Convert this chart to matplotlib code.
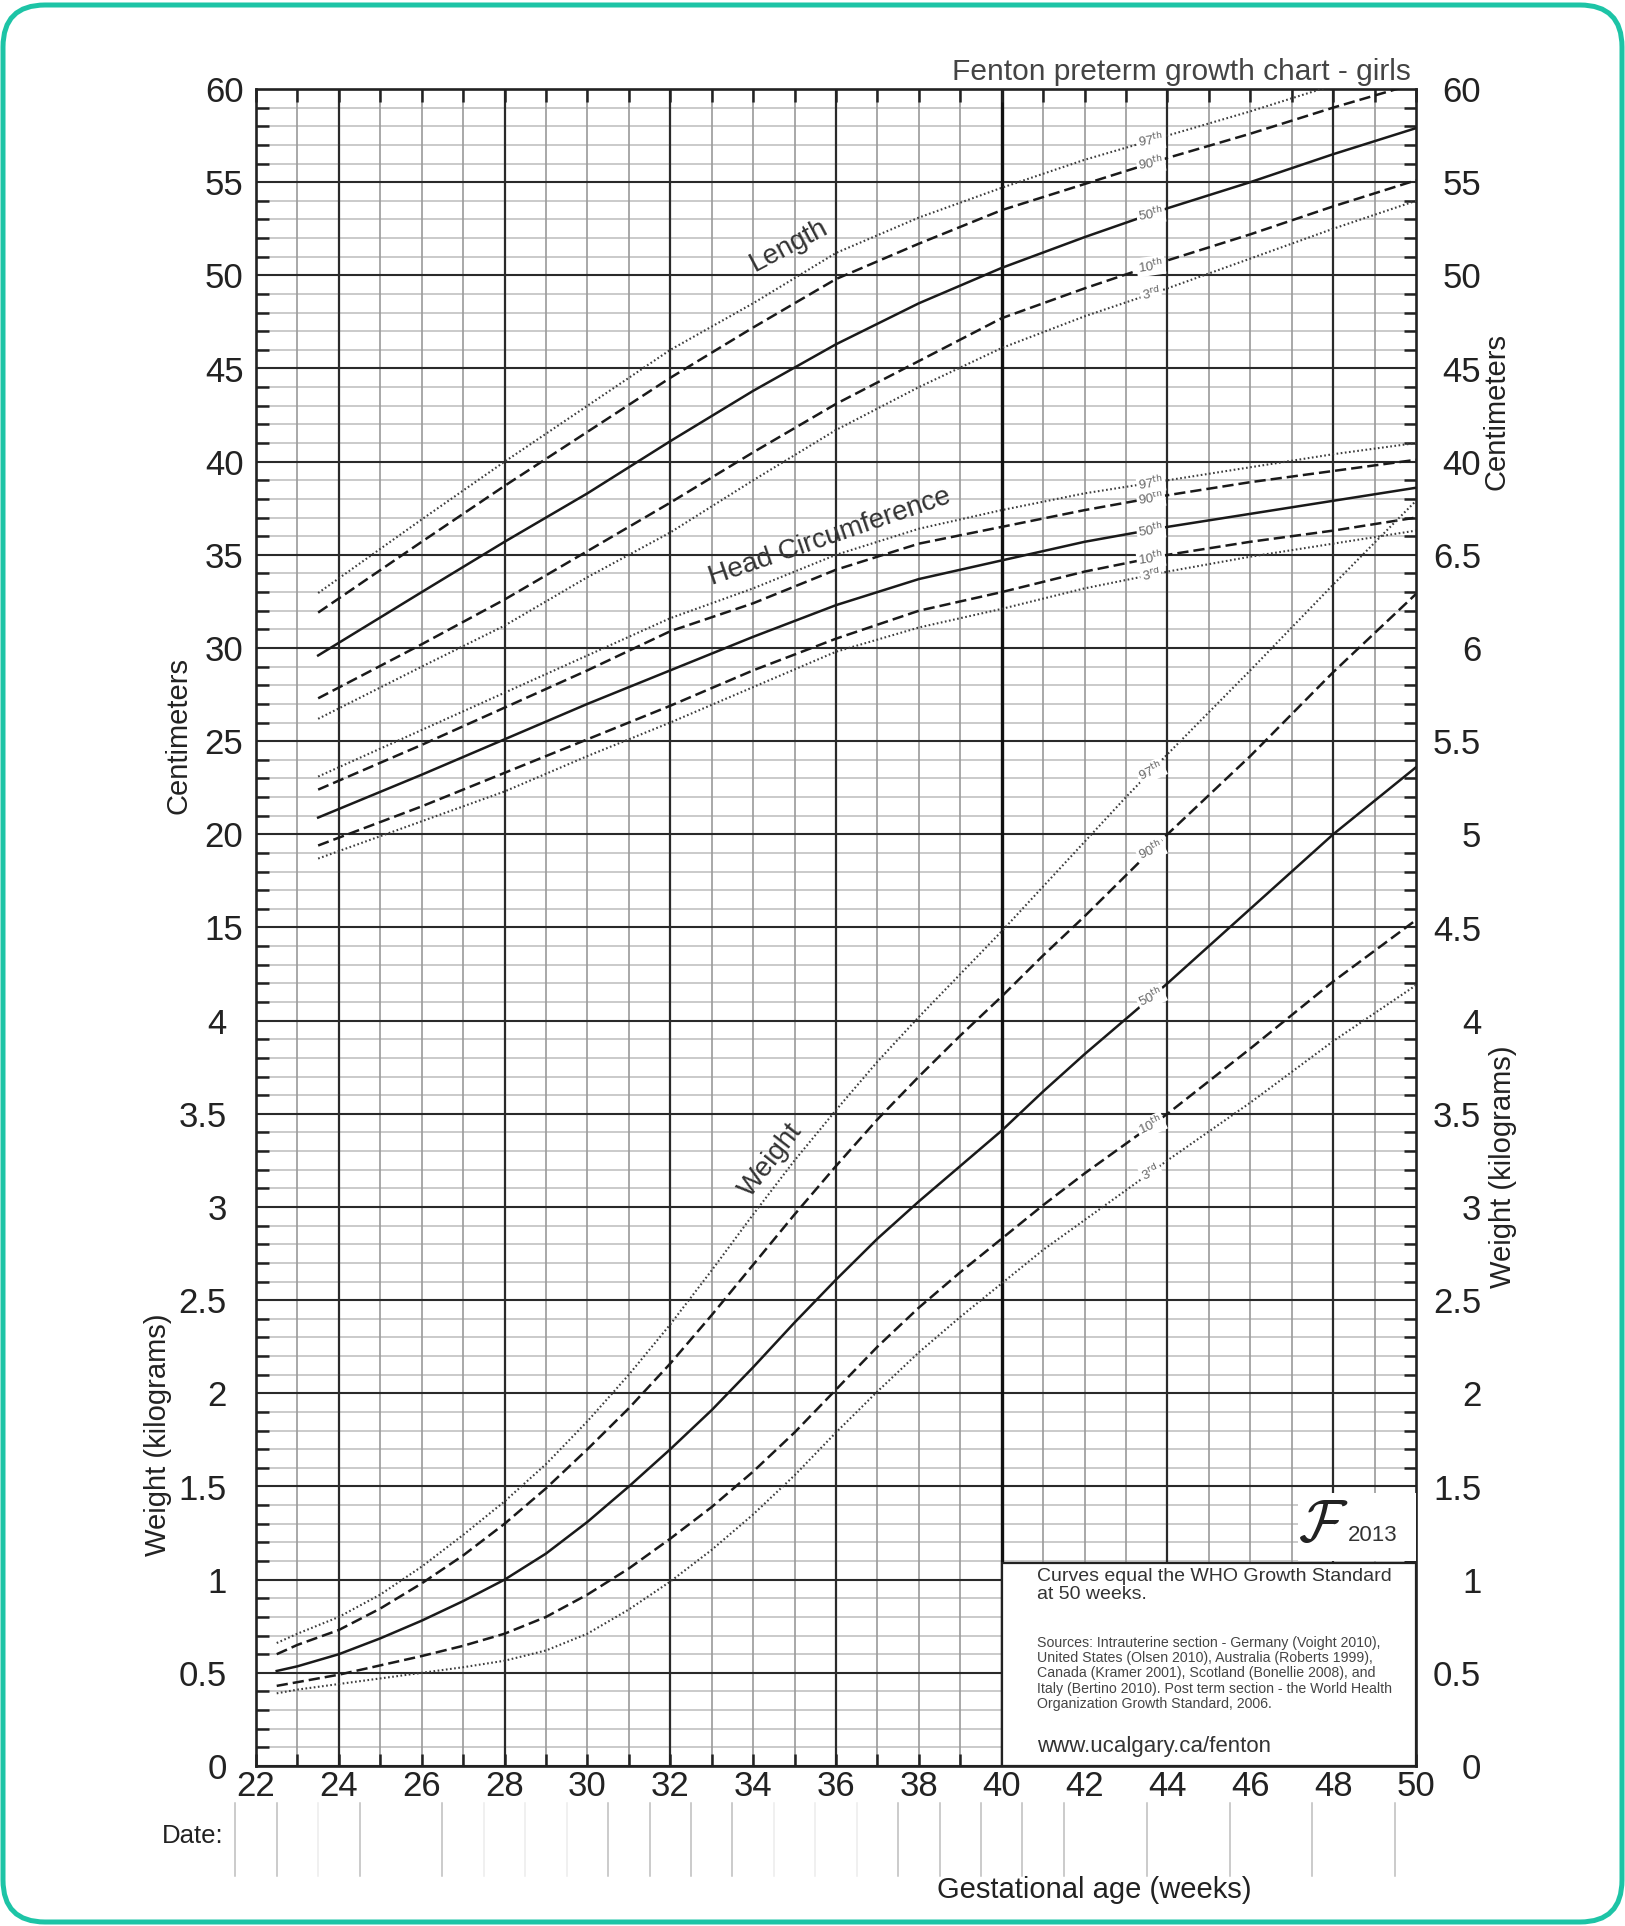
import matplotlib
matplotlib.use('Agg')
import matplotlib.pyplot as plt
import numpy as np
from matplotlib.patches import Rectangle, FancyBboxPatch
from matplotlib.transforms import IdentityTransform

plt.rcParams['font.family'] = ['Liberation Sans', 'DejaVu Sans']

# ---- data ----
# length / head circumference (cm), by gestational week
lhc_weeks = [23.5, 26, 28, 30, 32, 34, 36, 38, 40, 42, 44, 46, 48, 50]
len_p3  = [26.2, 29.0, 31.2, 33.8, 36.2, 39.0, 41.7, 44.0, 46.1, 47.8, 49.3, 50.9, 52.5, 54.0]
len_p10 = [27.3, 30.2, 32.6, 35.2, 37.8, 40.5, 43.1, 45.4, 47.7, 49.3, 50.8, 52.2, 53.7, 55.1]
len_p50 = [29.6, 33.0, 35.7, 38.3, 41.1, 43.8, 46.3, 48.5, 50.4, 52.05, 53.6, 55.0, 56.5, 57.9]
len_p90 = [31.9, 35.7, 38.7, 41.6, 44.5, 47.2, 49.8, 51.7, 53.5, 54.9, 56.3, 57.6, 59.0, 60.3]
len_p97 = [32.95, 36.9, 40.0, 43.0, 46.0, 48.5, 51.2, 53.1, 54.7, 56.2, 57.5, 58.8, 60.2, 61.5]

hc_p3  = [18.7, 20.7, 22.3, 24.2, 26.0, 27.9, 29.8, 31.1, 32.1, 33.2, 34.1, 34.9, 35.6, 36.3]
hc_p10 = [19.4, 21.5, 23.3, 25.1, 26.9, 28.8, 30.5, 32.0, 33.0, 34.1, 35.0, 35.7, 36.3, 37.0]
hc_p50 = [20.9, 23.2, 25.1, 27.0, 28.8, 30.6, 32.3, 33.7, 34.7, 35.7, 36.5, 37.2, 37.9, 38.6]
hc_p90 = [22.4, 24.8, 26.8, 28.8, 30.9, 32.4, 34.2, 35.6, 36.5, 37.4, 38.2, 38.9, 39.5, 40.1]
hc_p97 = [23.1, 25.6, 27.6, 29.6, 31.6, 33.2, 35.0, 36.4, 37.4, 38.3, 39.0, 39.7, 40.4, 41.0]

# weight (kg)
wt_weeks = [22.5, 23, 24, 25, 26, 27, 28, 29, 30, 31, 32, 33, 34, 35, 36, 37, 38, 39,
            40, 41, 42, 43, 44, 46, 48, 50]
wt_p3  = [0.39, 0.41, 0.44, 0.47, 0.50, 0.53, 0.565, 0.62, 0.71, 0.84, 0.99, 1.16, 1.35, 1.56,
          1.79, 2.01, 2.22, 2.41, 2.59, 2.77, 2.93, 3.09, 3.25, 3.56, 3.89, 4.19]
wt_p10 = [0.43, 0.45, 0.49, 0.54, 0.59, 0.645, 0.71, 0.80, 0.92, 1.06, 1.22, 1.39, 1.58, 1.79,
          2.02, 2.25, 2.46, 2.65, 2.83, 3.01, 3.18, 3.34, 3.50, 3.85, 4.21, 4.54]
wt_p50 = [0.51, 0.535, 0.60, 0.685, 0.78, 0.885, 1.00, 1.14, 1.31, 1.50, 1.70, 1.91, 2.14, 2.38,
          2.61, 2.83, 3.03, 3.22, 3.41, 3.62, 3.82, 4.01, 4.20, 4.60, 5.00, 5.36]
wt_p90 = [0.60, 0.65, 0.73, 0.845, 0.98, 1.13, 1.30, 1.49, 1.70, 1.92, 2.16, 2.42, 2.69, 2.96,
          3.22, 3.47, 3.70, 3.92, 4.13, 4.35, 4.56, 4.78, 5.00, 5.42, 5.87, 6.29]
wt_p97 = [0.66, 0.71, 0.80, 0.92, 1.07, 1.24, 1.42, 1.62, 1.85, 2.10, 2.37, 2.66, 2.96, 3.25,
          3.52, 3.78, 4.02, 4.25, 4.48, 4.72, 4.96, 5.20, 5.43, 5.88, 6.34, 6.79]

percentiles = [3, 10, 50, 90, 97]
pct_labels = [r'3$^{\rm rd}$', r'10$^{\rm th}$', r'50$^{\rm th}$', r'90$^{\rm th}$', r'97$^{\rm th}$']

x_tick_weeks = list(range(22, 51, 2))
left_cm_ticks = list(range(15, 61, 5))
left_kg_ticks = [0, 0.5, 1, 1.5, 2, 2.5, 3, 3.5, 4]
right_ticks = list(np.arange(0, 9.01, 0.5))
right_labels = ['0', '0.5', '1', '1.5', '2', '2.5', '3', '3.5', '4', '4.5', '5', '5.5',
                '6', '6.5', '40', '45', '50', '55', '60']
date_weeks = [21.5, 22.5, 24.5, 26.5, 30.5, 31.5, 32.5, 33.5, 37.5, 38.5, 39.5, 40.5,
              41.5, 43.5, 45.5, 47.5, 49.5]
date_weeks_faint = [23.5, 27.5, 28.5, 29.5, 34.5, 35.5, 36.5]

sources = ("Sources: Intrauterine section - Germany (Voight 2010),\n"
           "United States (Olsen 2010), Australia (Roberts 1999),\n"
           "Canada (Kramer 2001), Scotland (Bonellie 2008), and\n"
           "Italy (Bertino 2010). Post term section - the World Health\n"
           "Organization Growth Standard, 2006.")

# ---- figure ----
W, H = 1625, 1926
fig = plt.figure(figsize=(W / 100, H / 100), dpi=100)


def fx(px):
    return px / W


def fy(py):
    return 1 - py / H


ax = fig.add_axes([fx(256), fy(1766), fx(1416) - fx(256), fy(89) - fy(1766)])
ax.set_xlim(22, 50)
ax.set_ylim(-30, 60)

# grid
for c in range(-30, 61):
    if c % 5 == 0:
        ax.axhline(c, color='#2a2a2a', lw=1.5, zorder=1.2)
    else:
        ax.axhline(c, color='#c6c6c6', lw=1.3, zorder=1.0)
for wk in range(23, 50):
    if wk == 40:
        ax.axvline(wk, color='#111111', lw=2.4, zorder=1.3)
    elif wk % 4 == 0:
        ax.axvline(wk, color='#2a2a2a', lw=1.6, zorder=1.25)
    else:
        ax.axvline(wk, color='#9a9a9a', lw=1.2, zorder=1.05)

for s in ax.spines.values():
    s.set_linewidth(1.9)
    s.set_color('#222222')

styles = {
    3: dict(color='#3c3c3c', lw=1.5, dashes=(0.8, 1.2)),
    10: dict(color='#1a1a1a', lw=1.8, dashes=(4.5, 2.0)),
    50: dict(color='#1a1a1a', lw=1.8, ls='-'),
    90: dict(color='#1a1a1a', lw=1.8, dashes=(4.5, 2.0)),
    97: dict(color='#3c3c3c', lw=1.5, dashes=(0.8, 1.2)),
}

label_x = 43.6
lbl_box = dict(boxstyle='square,pad=0.12', fc='white', ec='none')

for series in ([len_p3, len_p10, len_p50, len_p90, len_p97],
               [hc_p3, hc_p10, hc_p50, hc_p90, hc_p97]):
    for p, vals, lab in zip(percentiles, series, pct_labels):
        ax.plot(lhc_weeks, vals, zorder=3, **styles[p])
        ax.text(label_x, np.interp(label_x, lhc_weeks, vals), lab, fontsize=9.5,
                color='#666666', ha='center', va='center', rotation=8,
                bbox=lbl_box, zorder=4)

ax.text(34.87, 51.6, 'Length', fontsize=20, rotation=28, ha='center', va='center',
        color='#333333', zorder=4)
ax.text(35.85, 35.95, 'Head Circumference', fontsize=20, rotation=19, ha='center',
        va='center', color='#333333', zorder=4)

# ticks on main axis
ax.set_xticks(x_tick_weeks)
ax.set_xticklabels([str(v) for v in x_tick_weeks])
ax.set_xticks(range(22, 51), minor=True)
ax.tick_params(axis='x', which='both', direction='in', length=9, width=1.8,
               top=True, bottom=True, color='#222222')
ax.tick_params(axis='x', which='major', pad=3, labelsize=25, labelcolor='#222222')

ax.set_yticks(list(range(-30, 61, 5)))
ax.set_yticklabels([str(v) if v >= 15 else '' for v in range(-30, 61, 5)])
ax.set_yticks(range(-30, 61), minor=True)

# weight axis (right)
axw = ax.twinx()
axw.set_ylim(0, 9)
for s in axw.spines.values():
    s.set_visible(False)
for p, vals, lab in zip(percentiles, [wt_p3, wt_p10, wt_p50, wt_p90, wt_p97], pct_labels):
    axw.plot(wt_weeks, vals, zorder=3, **styles[p])
    axw.text(label_x, np.interp(label_x, wt_weeks, vals), lab, fontsize=9.5,
             color='#666666', ha='center', va='center', rotation=25,
             bbox=lbl_box, zorder=4)
axw.text(34.42, 3.25, 'Weight', fontsize=20, rotation=52, ha='center', va='center',
         color='#333333', zorder=4)

axw.set_yticks(right_ticks)
axw.set_yticklabels(right_labels)
axw.tick_params(axis='y', which='both', length=0, pad=47, labelsize=25,
                labelcolor='#222222')
for lab in axw.get_yticklabels():
    lab.set_horizontalalignment('right')

# left kg labels
axl = ax.twinx()
axl.yaxis.tick_left()
axl.set_ylim(0, 9)
for s in axl.spines.values():
    s.set_visible(False)
axl.set_yticks(left_kg_ticks)
axl.set_yticklabels([('%g' % v) for v in left_kg_ticks])
axl.tick_params(axis='y', length=0, pad=21, labelsize=25, labelcolor='#222222')

ax.tick_params(axis='y', which='major', length=0, pad=9, labelsize=25,
               labelcolor='#222222')
ax.tick_params(axis='y', which='minor', direction='in', length=9, width=1.8,
               left=True, right=True, color='#222222')

# info box
axw.add_patch(Rectangle((40, 0), 10, 1.09, fc='white', ec='#222222', lw=1.6, zorder=5))
axw.text(40.86, 1.065, 'Curves equal the WHO Growth Standard\nat 50 weeks.', fontsize=14,
         color='#333333', ha='left', va='top', linespacing=1.1, zorder=6)
axw.text(40.86, 0.70, sources, fontsize=10.2, color='#444444', ha='left', va='top',
         linespacing=1.12, zorder=6)
axw.text(40.86, 0.104, 'www.ucalgary.ca/fenton', fontsize=16, color='#333333',
         ha='left', va='center', zorder=6)

# logo
axw.add_patch(Rectangle((47.15, 1.1), 2.85, 0.365, fc='white', ec='none', zorder=4))
axw.text(47.75, 1.29, r'$\mathcal{F}$', fontsize=42, math_fontfamily='cm',
         ha='center', va='center', color='#222222', zorder=6)
axw.text(48.95, 1.235, '2013', fontsize=16, ha='center', va='center',
         color='#333333', zorder=6)

# date row
xt = ax.get_xaxis_transform()
for d in date_weeks:
    ax.plot([d, d], [-0.0221, -0.0656], transform=xt, clip_on=False,
            color='#bdbdbd', lw=1.1)
for d in date_weeks_faint:
    ax.plot([d, d], [-0.0221, -0.0656], transform=xt, clip_on=False,
            color='#ececec', lw=1.1)

# figure texts
fig.text(fx(1411), fy(80), 'Fenton preterm growth chart - girls', ha='right',
         va='baseline', fontsize=21.5, color='#444444')
fig.text(fx(179), fy(735), 'Centimeters', rotation=90, ha='center', va='center',
         fontsize=21, color='#222222')
fig.text(fx(158), fy(1435), 'Weight (kilograms)', rotation=90, ha='center', va='center',
         fontsize=21, color='#222222')
fig.text(fx(1496), fy(411), 'Centimeters', rotation=90, ha='center', va='center',
         fontsize=21, color='#222222')
fig.text(fx(1503), fy(1167), 'Weight (kilograms)', rotation=90, ha='center',
         va='center', fontsize=21, color='#222222')
fig.text(fx(223), fy(1843), 'Date:', ha='right', va='baseline', fontsize=18.5,
         color='#222222')
fig.text(fx(937), fy(1898), 'Gestational age (weeks)', ha='left', va='baseline',
         fontsize=21, color='#222222')

# rounded teal frame
frame = FancyBboxPatch((3, 4), 1619, 1917, boxstyle='round,pad=0,rounding_size=42',
                       transform=IdentityTransform(), fill=False, ec='#1dc4a6', lw=3.6)
fig.add_artist(frame)

fig.savefig('out.png', dpi=100)
